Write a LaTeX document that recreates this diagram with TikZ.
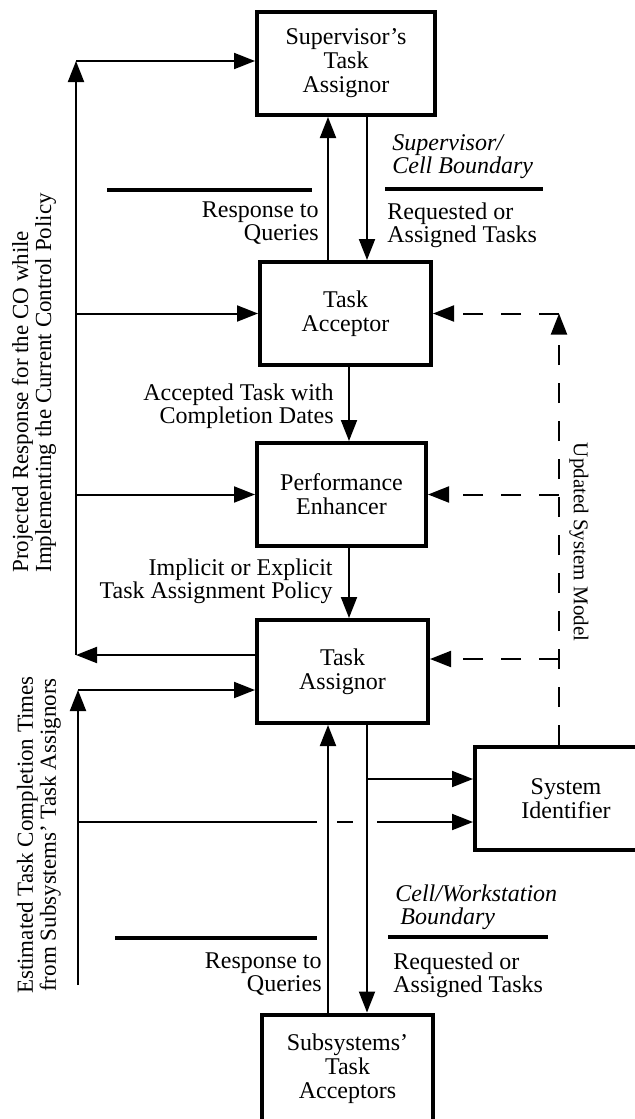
\documentclass[tikz,border=0pt]{standalone}
\usepackage{fontspec}
\setmainfont{Liberation Serif}
\usetikzlibrary{arrows.meta}

\tikzset{
  block/.style={draw, line width=2pt, align=center, inner sep=0pt,
    minimum height=51.5pt, font=\fontsize{12}{12}\selectfont},
  flow/.style={line width=1pt, -{Triangle[length=10.5pt,width=8pt]}},
  feed/.style={flow, dash pattern=on 10pt off 9pt},
  boundary/.style={line width=1.8pt},
  lbl/.style={inner sep=0pt, font=\fontsize{12}{11.5}\selectfont},
  side/.style={inner sep=0pt, font=\fontsize{11.5}{10}\selectfont},
}

\begin{document}
\begin{tikzpicture}[x=0.5pt,y=-0.5pt]
\useasboundingbox (0,0) rectangle (635,1119);
\clip (0,0) rectangle (635,1119);

% the blocks
\node[block, minimum width=89pt] (sup) at (346,63.5) {Supervisor's\\Task\\Assignor};
\node[block, minimum width=85.5pt] (acc) at (345.5,313.5) {Task\\Acceptor};
\node[block, minimum width=84.5pt] (enh) at (341.5,494.5) {Performance\\Enhancer};
\node[block, minimum width=85.5pt] (asg) at (342.5,671.5) {Task\\Assignor};
\node[block, minimum width=91pt] (sid) at (566,798.5) {System\\Identifier};
\node[block, minimum width=85.5pt, minimum height=54pt] (sub) at (347.5,1068.5) {Subsystems'\\Task\\Acceptors};

% main chain
\draw[flow] (acc.north -| 328,0) -- (sup.south -| 328,0);
\draw[flow] (sup.south -| 367,0) -- (acc.north -| 367,0);
\draw[flow] (acc.south -| 349,0) -- (enh.north -| 349,0);
\draw[flow] (enh.south -| 349,0) -- (asg.north -| 349,0);
\draw[flow] (sub.north -| 328,0) -- (asg.south -| 328,0);
\draw[flow] (asg.south -| 367,0) -- (sub.north -| 367,0);
\coordinate (tap) at (367,779);
\draw[flow] (tap) -- (sid.west |- tap);

% projected response bus on the left
\coordinate (projTop) at (76,61);
\coordinate (projBot) at (76,655);
\draw[flow] (asg.west |- projBot) -- (projBot);
\draw[flow] (projBot) -- (projTop);
\draw[flow] (projTop) -- (sup.west |- projTop);
\draw[flow] (projTop |- acc.west) -- (acc.west);
\draw[flow] (projTop |- enh.west) -- (enh.west);

% estimated completion times
\coordinate (estTop) at (78,690);
\coordinate (estBot) at (78,985);
\coordinate (estMid) at (78,822);
\draw[flow] (estBot) -- (estTop);
\draw[flow] (estTop) -- (asg.west |- estTop);
\draw[flow] (estMid) -- (317,822) (337,822) -- (353,822) (377,822) -- (sid.west |- estMid);

% updated model fed back (dashed)
\coordinate (updTop) at (559,313.5);
\draw[feed] (sid.north -| updTop) -- (updTop);
\draw[feed] (updTop) -- (acc.east);
\draw[feed] (updTop |- enh.east) -- (enh.east);
\draw[feed] (updTop |- 0,659) -- (asg.east |- 0,659);

% boundaries
\draw[boundary] (107,190) -- (312,190);
\draw[boundary] (385,189) -- (543,189);
\draw[boundary] (115,938) -- (317,938);
\draw[boundary] (388,937) -- (548,937);

% labels
\node[lbl, anchor=west, align=left, font=\fontsize{12}{11.5}\selectfont\itshape] (supBound) at (392,157) {Supervisor/\\Cell Boundary};
\node[lbl, anchor=west, align=left] (reqTop) at (387,225) {Requested or\\Assigned Tasks};
\node[lbl, anchor=east, align=right] (respTop) at (319,223) {Response to\\Queries};
\node[lbl, anchor=east, align=right] (accLbl) at (334,406) {Accepted Task with\\Completion Dates};
\node[lbl, anchor=east, align=right] (polLbl) at (333,581) {Implicit or Explicit\\Task Assignment Policy};
\node[lbl, anchor=west, align=left, font=\fontsize{12}{11.5}\selectfont\itshape] (cellBound) at (395,907) {Cell/Workstation\\\hspace{2.5pt}Boundary};
\node[lbl, anchor=east, align=right] (respBot) at (322,974) {Response to\\Queries};
\node[lbl, anchor=west, align=left] (reqBot) at (393,975) {Requested or\\Assigned Tasks};

\node[side, rotate=90, anchor=west, align=left] (projLbl) at (34,573) {Projected Response for the CO while\\Implementing the Current Control Policy};
\node[side, rotate=90, align=center, font=\fontsize{11.5}{11.5}\selectfont] (estLbl) at (39,835) {Estimated Task Completion Times\\from Subsystems' Task Assignors};
\node[inner sep=0pt, rotate=-90, font=\fontsize{10.5}{10.5}\selectfont] (updLbl) at (579,542) {Updated System Model};
\end{tikzpicture}
\end{document}
